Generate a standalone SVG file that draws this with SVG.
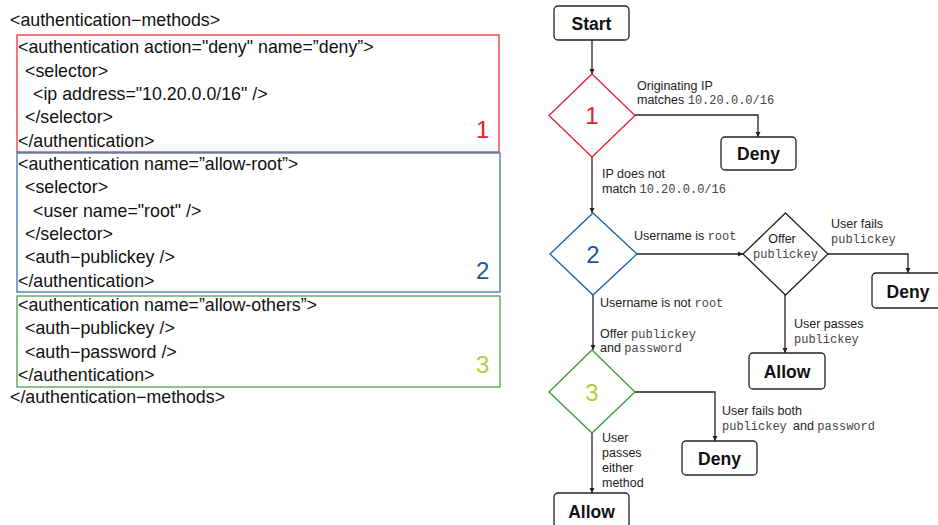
<svg xmlns="http://www.w3.org/2000/svg" width="938" height="525" viewBox="0 0 938 525">
<style>
.code{font-family:"Liberation Sans",Arial,sans-serif;font-size:17.8px;fill:#111}
.num{font-family:"Liberation Sans",Arial,sans-serif;font-size:24px}
.box{fill:#fff;stroke:#222;stroke-width:1.3}
.bt{font-family:"Liberation Sans",Arial,sans-serif;font-size:17.5px;font-weight:bold;fill:#111;text-anchor:middle}
.lbl{font-family:"Liberation Sans",Arial,sans-serif;font-size:12.5px;fill:#222}
.mono{font-family:"Liberation Mono","Courier New",monospace;font-size:12px;fill:#444}
.con{fill:none;stroke:#222;stroke-width:1.3}
.dia{fill:#fff;stroke-width:1.3}
</style>
<defs>
<marker id="ah" viewBox="0 0 10 10" refX="10" refY="5" markerWidth="5" markerHeight="7" markerUnits="userSpaceOnUse" orient="auto">
<path d="M0,0 L10,5 L0,10 z" fill="#222"/>
</marker>
</defs>
<rect width="938" height="525" fill="#fff"/>

<g id="code">
<text class="code" x="10" y="26">&lt;authentication−methods&gt;</text>
<g id="block1">
<rect x="17" y="35" width="482" height="117" fill="none" stroke="#e8202a" stroke-width="1.2"/>
<text class="code" x="18" y="53">&lt;authentication action="deny" name=”deny”&gt;</text>
<text class="code" x="25" y="77">&lt;selector&gt;</text>
<text class="code" x="33" y="100">&lt;ip address="10.20.0.0/16" /&gt;</text>
<text class="code" x="25" y="123">&lt;/selector&gt;</text>
<text class="code" x="18" y="147">&lt;/authentication&gt;</text>
<text class="num" x="476" y="138" fill="#e8202a">1</text>
</g>
<g id="block2">
<rect x="17" y="153" width="483" height="139" fill="none" stroke="#2a6ab0" stroke-width="1.2"/>
<text class="code" x="18" y="170">&lt;authentication name=”allow-root”&gt;</text>
<text class="code" x="25" y="193">&lt;selector&gt;</text>
<text class="code" x="33" y="217">&lt;user name="root" /&gt;</text>
<text class="code" x="25" y="240">&lt;/selector&gt;</text>
<text class="code" x="25" y="263">&lt;auth−publickey /&gt;</text>
<text class="code" x="18" y="287">&lt;/authentication&gt;</text>
<text class="num" x="476" y="279" fill="#1a5a9a">2</text>
</g>
<g id="block3">
<rect x="17" y="296" width="483" height="91" fill="none" stroke="#3a9a3a" stroke-width="1.2"/>
<text class="code" x="18" y="311">&lt;authentication name=”allow-others”&gt;</text>
<text class="code" x="25" y="334">&lt;auth−publickey /&gt;</text>
<text class="code" x="25" y="358">&lt;auth−password /&gt;</text>
<text class="code" x="18" y="381">&lt;/authentication&gt;</text>
<text class="num" x="476" y="373" fill="#b8cc3a">3</text>
</g>
<text class="code" x="10" y="403">&lt;/authentication−methods&gt;</text>
</g>

<g id="connectors">
<path class="con" d="M592,40 V74" marker-end="url(#ah)"/>
<path class="con" d="M635,115 H758 V137" marker-end="url(#ah)"/>
<path class="con" d="M592,157 V213" marker-end="url(#ah)"/>
<path class="con" d="M637,254 H743" marker-end="url(#ah)"/>
<path class="con" d="M828,254 H908 V273" marker-end="url(#ah)"/>
<path class="con" d="M785,295 V353" marker-end="url(#ah)"/>
<path class="con" d="M593,295 V350" marker-end="url(#ah)"/>
<path class="con" d="M635,392 H715 V441" marker-end="url(#ah)"/>
<path class="con" d="M592,433 V493" marker-end="url(#ah)"/>
</g>

<g id="labels">
<text class="lbl" x="637" y="90">Originating IP</text>
<text class="lbl" x="637" y="104">matches <tspan class="mono">10.20.0.0/16</tspan></text>
<text class="lbl" x="602" y="178">IP does not</text>
<text class="lbl" x="602" y="193">match <tspan class="mono">10.20.0.0/16</tspan></text>
<text class="lbl" x="634" y="240">Username is <tspan class="mono">root</tspan></text>
<text class="lbl" x="831" y="228">User fails</text>
<text class="mono" x="831" y="243">publickey</text>
<text class="lbl" x="600" y="307">Username is not <tspan class="mono">root</tspan></text>
<text class="lbl" x="600" y="338">Offer <tspan class="mono">publickey</tspan></text>
<text class="lbl" x="600" y="352">and <tspan class="mono">password</tspan></text>
<text class="lbl" x="794" y="328">User passes</text>
<text class="mono" x="794" y="343">publickey</text>
<text class="lbl" x="722" y="415">User fails both</text>
<text class="lbl" x="722" y="430"><tspan class="mono">publickey</tspan>  <tspan x="793">and</tspan> <tspan class="mono">password</tspan></text>
<text class="lbl" x="602" y="442">User</text>
<text class="lbl" x="602" y="457">passes</text>
<text class="lbl" x="602" y="472">either</text>
<text class="lbl" x="602" y="487">method</text>
</g>

<g id="start"><rect class="box" x="554" y="6" width="75" height="34" rx="4"/><text class="bt" x="591.5" y="30">Start</text></g>
<g id="d1"><path class="dia" stroke="#e8202a" d="M592,74 L635,115.5 L592,157 L549,115.5 Z"/><text class="num" x="592" y="124" fill="#e8202a" text-anchor="middle">1</text></g>
<g id="deny1"><rect class="box" x="721" y="137" width="75" height="33" rx="4"/><text class="bt" x="758.5" y="160">Deny</text></g>
<g id="d2"><path class="dia" stroke="#1a5fa0" d="M593,213 L637,254 L593,295 L550,254 Z"/><text class="num" x="593" y="263" fill="#1a5a9a" text-anchor="middle">2</text></g>
<g id="offer"><path class="dia" stroke="#222" d="M785.5,213 L828,254 L785.5,295 L743,254 Z"/><text class="lbl" x="782" y="243" text-anchor="middle">Offer</text><text class="mono" x="785.5" y="258" text-anchor="middle">publickey</text></g>
<g id="deny2"><rect class="box" x="872" y="273" width="76" height="35" rx="4"/><text class="bt" x="908" y="298">Deny</text></g>
<g id="allow1"><rect class="box" x="749" y="353" width="76" height="36" rx="4"/><text class="bt" x="787" y="378">Allow</text></g>
<g id="d3"><path class="dia" stroke="#3a9a3a" d="M592,350 L635,392 L592,433 L549,392 Z"/><text class="num" x="592" y="401" fill="#b8cc3a" text-anchor="middle">3</text></g>
<g id="deny3"><rect class="box" x="682" y="441" width="75" height="34" rx="4"/><text class="bt" x="719.5" y="465">Deny</text></g>
<g id="allow2"><rect class="box" x="554" y="493" width="75" height="40" rx="4"/><text class="bt" x="591.5" y="518">Allow</text></g>
</svg>
